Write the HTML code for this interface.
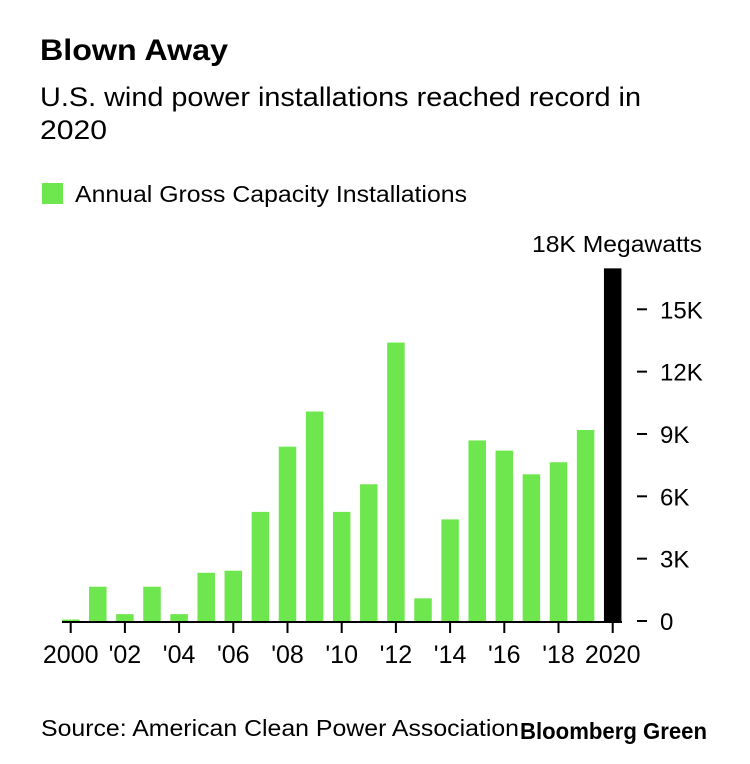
<!DOCTYPE html>
<html><head><meta charset="utf-8"><style>
html,body{margin:0;padding:0;background:#fff;}
svg{display:block;font-family:"Liberation Sans",sans-serif;}
</style></head><body>
<svg id="chart" width="750" height="764" viewBox="0 0 750 764">
<text x="40" y="60" font-size="30" font-weight="bold" textLength="188" lengthAdjust="spacingAndGlyphs">Blown Away</text>
<text x="40" y="106" font-size="27" textLength="601" lengthAdjust="spacingAndGlyphs">U.S. wind power installations reached record in</text>
<text x="40" y="139" font-size="27" textLength="67" lengthAdjust="spacingAndGlyphs">2020</text>
<rect x="42" y="183" width="21" height="21" fill="#6ee64d"/>
<text x="75" y="202" font-size="23" textLength="392" lengthAdjust="spacingAndGlyphs">Annual Gross Capacity Installations</text>
<text x="702" y="252" font-size="23" text-anchor="end" textLength="170" lengthAdjust="spacingAndGlyphs">18K Megawatts</text>
<g id="bars"></g>
<g id="yaxis"></g>
<g id="xaxis"></g>
<text x="41" y="736" font-size="23" textLength="478" lengthAdjust="spacingAndGlyphs">Source: American Clean Power Association</text>
<text x="520" y="739" font-size="23" font-weight="bold" textLength="187" lengthAdjust="spacingAndGlyphs">Bloomberg Green</text>
</svg>
<script>
const years = [2000,2001,2002,2003,2004,2005,2006,2007,2008,2009,2010,2011,2012,2013,2014,2015,2016,2017,2018,2019,2020];
const capacityK = [0.07,1.65,0.33,1.65,0.33,2.32,2.42,5.25,8.39,10.08,5.25,6.58,13.4,1.09,4.89,8.69,8.2,7.06,7.64,9.19,16.97];
const yTicks = [0,3,6,9,12,15];
const yTickLabels = ["0","3K","6K","9K","12K","15K"];
const xTickYears = [2000,2002,2004,2006,2008,2010,2012,2014,2016,2018,2020];
const xTickLabels = ["2000","'02","'04","'06","'08","'10","'12","'14","'16","'18","2020"];

const NS = "http://www.w3.org/2000/svg";
const baseY = 621, kPx = 20.78;
const x0 = 70.7, step = 27.1, bw = 17.5;
const xs = y => x0 + (y - 2000) * step;
const ys = v => baseY - v * kPx;
function mk(tag, attrs, parent){const e=document.createElementNS(NS,tag);for(const k in attrs)e.setAttribute(k,attrs[k]);parent.appendChild(e);return e;}

const bars = document.getElementById('bars');
years.forEach((yr,i)=>{
  const v = capacityK[i];
  const r = mk('rect',{x:xs(yr)-bw/2,y:ys(v),width:bw,height:baseY-ys(v),fill: yr===2020?'#000':'#6ee64d'},bars);
  
  
});

const ya = document.getElementById('yaxis');
yTicks.forEach((t,i)=>{
  const d = mk('line',{x1:637,x2:647,y1:ys(t),y2:ys(t),stroke:'#000','stroke-width':2},ya);
  
  
  const tx = mk('text',{x:660,y:ys(t)+9,'font-size':24},ya);
  tx.textContent = yTickLabels[i];
  
  
});

const xa = document.getElementById('xaxis');
const axis = mk('line',{x1:62,x2:622,y1:baseY+1,y2:baseY+1,stroke:'#000','stroke-width':2},xa);


xTickYears.forEach((yr,i)=>{
  const t = mk('line',{x1:xs(yr),x2:xs(yr),y1:baseY+1,y2:baseY+12,stroke:'#000','stroke-width':2},xa);
  
  
  const tx = mk('text',{x:xs(yr),y:663,'font-size':25,'text-anchor':'middle'},xa);
  tx.textContent = xTickLabels[i];
  
  
});
</script>
</body></html>
